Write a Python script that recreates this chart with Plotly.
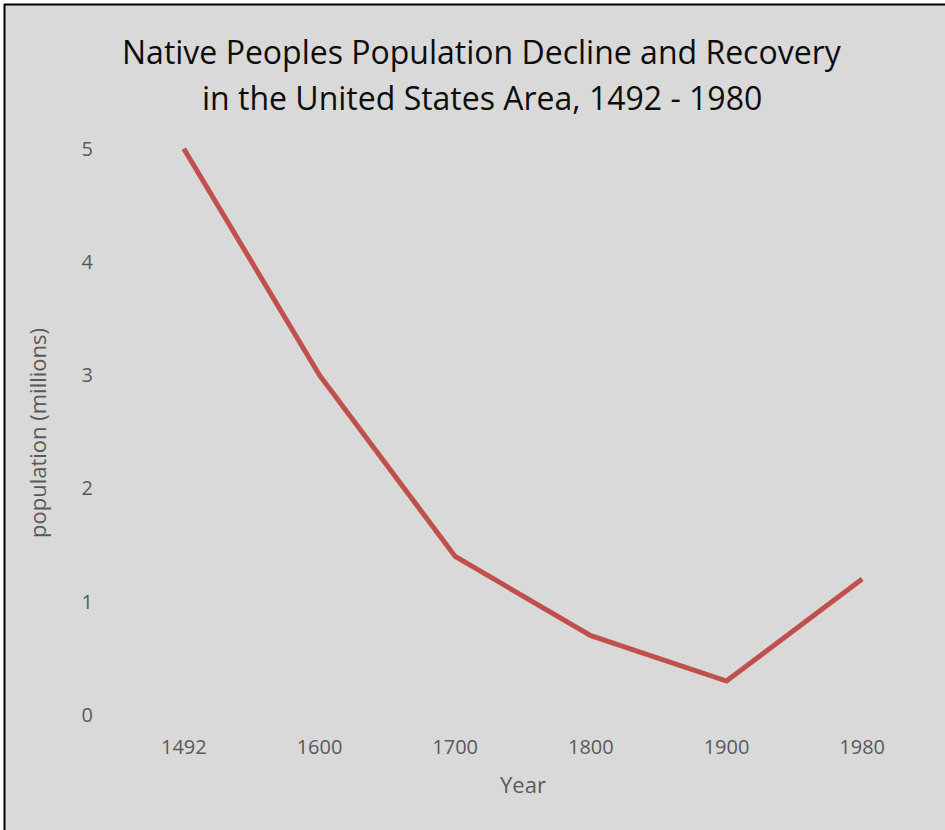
import plotly.graph_objects as go

years = ["1492", "1600", "1700", "1800", "1900", "1980"]
population = [5.0, 3.0, 1.4, 0.7, 0.3, 1.2]
y_ticks = [0, 1, 2, 3, 4, 5]
title_lines = ["Native Peoples Population Decline and Recovery",
               "in the United States Area, 1492 - 1980"]
x_title = "Year"
y_title = "population (millions)"

W, H = 945, 830
L, R, T, B = 116, 15, 143, 115
pw, ph = W - L - R, H - T - B

def px_x(x):
    return (x - L) / pw

def px_y(y):
    return (H - B - y) / ph

fig = go.Figure()
fig.add_trace(go.Scatter(
    x=years, y=population, mode="lines",
    line=dict(color="#C0504D", width=5),
    hoverinfo="x+y", showlegend=False,
))

gray = "#D9D9D9"
tick_col = "#595959"
annotations = [
    dict(text=title_lines[0], xref="paper", yref="paper", x=px_x(482), y=px_y(51),
         xanchor="center", yanchor="middle", showarrow=False,
         font=dict(family="Open Sans", size=32, color="#0d0d0d")),
    dict(text=title_lines[1], xref="paper", yref="paper", x=px_x(482), y=px_y(97),
         xanchor="center", yanchor="middle", showarrow=False,
         font=dict(family="Open Sans", size=32, color="#0d0d0d")),
    dict(text=x_title, xref="paper", yref="paper", x=px_x(523), y=px_y(784),
         xanchor="center", yanchor="middle", showarrow=False,
         font=dict(family="Open Sans", size=22, color=tick_col)),
    dict(text=y_title, xref="paper", yref="paper", x=px_x(37), y=px_y(433),
         xanchor="center", yanchor="middle", showarrow=False, textangle=-90,
         font=dict(family="Open Sans", size=22, color=tick_col)),
]

fig.update_layout(
    width=W, height=H,
    margin=dict(l=L, r=R, t=T, b=B),
    paper_bgcolor=gray, plot_bgcolor=gray,
    font=dict(family="Open Sans", color=tick_col),
    xaxis=dict(
        type="category", showgrid=False, zeroline=False, showline=False,
        ticks="", tickfont=dict(size=20, color=tick_col),
        ticklabelstandoff=18, range=[-0.5, 5.5],
    ),
    yaxis=dict(
        range=[0, 5.05], tickvals=y_ticks, showgrid=False, zeroline=False,
        showline=False, ticks="", tickfont=dict(size=20, color=tick_col),
        ticklabelstandoff=22,
    ),
    annotations=annotations,
    shapes=[
        dict(type="rect", xref="paper", yref="paper", x0=px_x(-5), x1=px_x(W + 5),
             y0=px_y(4), y1=px_y(-5), fillcolor="white", line=dict(width=0)),
        dict(type="rect", xref="paper", yref="paper", x0=px_x(-5), x1=px_x(4),
             y0=px_y(H + 5), y1=px_y(-5), fillcolor="white", line=dict(width=0)),
        dict(type="line", xref="paper", yref="paper", x0=px_x(4), x1=px_x(W + 5),
             y0=px_y(4.5), y1=px_y(4.5), line=dict(color="black", width=2)),
        dict(type="line", xref="paper", yref="paper", x0=px_x(4.5), x1=px_x(4.5),
             y0=px_y(4), y1=px_y(H + 5), line=dict(color="black", width=2)),
    ],
)

fig.write_html("out.html")
